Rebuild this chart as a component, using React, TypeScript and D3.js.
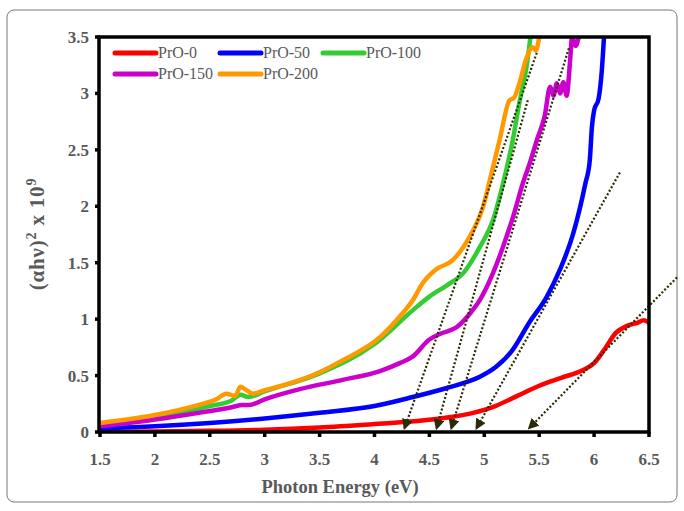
import * as d3 from "d3";

// photon energy (eV) and (αhν)² x 10⁹
const pro0X = [1.5, 2, 2.5, 3, 3.5, 4, 4.3, 4.6, 4.9, 5.1, 5.3, 5.5, 5.7, 5.9, 6.0, 6.1, 6.2, 6.3, 6.4, 6.45, 6.5];
const pro0Y = [0.0, 0.005, 0.01, 0.02, 0.04, 0.07, 0.09, 0.12, 0.17, 0.23, 0.32, 0.41, 0.48, 0.55, 0.61, 0.74, 0.88, 0.94, 0.97, 0.99, 0.97];

const pro50X = [1.5, 2, 2.5, 3, 3.5, 4, 4.35, 4.66, 4.8, 4.96, 5.11, 5.26, 5.41, 5.57, 5.69, 5.81, 5.92, 5.96, 5.98, 6.0, 6.04, 6.07, 6.09];
const pro50Y = [0.03, 0.05, 0.08, 0.12, 0.17, 0.23, 0.31, 0.39, 0.43, 0.49, 0.58, 0.73, 0.97, 1.2, 1.44, 1.76, 2.2, 2.4, 2.7, 2.85, 2.95, 3.2, 3.5];

const pro100X = [1.5, 2, 2.5, 2.7, 2.78, 2.85, 3, 3.5, 4, 4.35, 4.5, 4.66, 4.81, 4.96, 5.08, 5.17, 5.26, 5.32, 5.39, 5.42];
const pro100Y = [0.07, 0.14, 0.23, 0.28, 0.33, 0.31, 0.36, 0.52, 0.78, 1.08, 1.2, 1.3, 1.41, 1.64, 1.88, 2.2, 2.59, 2.92, 3.27, 3.5];

const pro150X = [1.5, 2, 2.4, 2.7, 2.8, 2.86, 3.0, 3.32, 3.7, 4.05, 4.23, 4.35, 4.5, 4.6, 4.75, 4.87, 4.96, 5.08, 5.17, 5.26, 5.35, 5.42, 5.48, 5.55, 5.6, 5.63, 5.66, 5.69, 5.72, 5.75, 5.78, 5.8, 5.83, 5.86];
const pro150Y = [0.05, 0.11, 0.17, 0.22, 0.24, 0.24, 0.29, 0.38, 0.46, 0.54, 0.61, 0.67, 0.82, 0.87, 0.93, 1.05, 1.17, 1.41, 1.64, 1.9, 2.2, 2.4, 2.59, 2.8, 3.06, 2.98, 3.09, 3.0, 3.1, 2.98, 3.27, 3.5, 3.42, 3.5];

const pro200X = [1.5, 2, 2.4, 2.56, 2.65, 2.73, 2.78, 2.82, 2.89, 3.0, 3.32, 3.5, 3.7, 4.05, 4.2, 4.35, 4.44, 4.56, 4.71, 4.81, 4.9, 4.99, 5.05, 5.14, 5.23, 5.27, 5.32, 5.38, 5.44, 5.47, 5.5];
const pro200Y = [0.08, 0.15, 0.24, 0.29, 0.34, 0.32, 0.4, 0.38, 0.34, 0.37, 0.46, 0.53, 0.63, 0.84, 0.99, 1.17, 1.32, 1.44, 1.52, 1.64, 1.79, 2.0, 2.23, 2.59, 2.94, 2.96, 3.09, 3.3, 3.41, 3.38, 3.5];

const seriesNames = ["PrO-0", "PrO-50", "PrO-100", "PrO-150", "PrO-200"];
const seriesColors = ["#ff0000", "#0000ff", "#33cc33", "#cc00cc", "#ff9900"];
const seriesX = [pro0X, pro50X, pro100X, pro150X, pro200X];
const seriesY = [pro0Y, pro50Y, pro100Y, pro150Y, pro200Y];

// tangent (Tauc) lines: start point and arrow point [x1, y1, x2, y2]
const tangentLines = [
  [5.478, 3.36, 4.274, 0.035],
  [5.396, 2.94, 4.566, 0.035],
  [5.77, 3.4, 4.7, 0.035],
  [6.235, 2.3, 4.93, 0.035],
  [6.755, 1.37, 5.41, 0.035],
];

const xTicks = [1.5, 2, 2.5, 3, 3.5, 4, 4.5, 5, 5.5, 6, 6.5];
const yTicks = [0, 0.5, 1, 1.5, 2, 2.5, 3, 3.5];

const W = 684;
const H = 511;
const left = 100;
const right = 649;
const top = 37;
const bottom = 432;

export default function App() {
  const x = d3.scaleLinear().domain([1.5, 6.5]).range([left, right]);
  const y = d3.scaleLinear().domain([0, 3.5]).range([bottom, top]);

  const font = "'Liberation Serif', 'Times New Roman', serif";
  const grey = "#595959";

  const paths = seriesX.map(
    (xs, s) =>
      d3
        .line<number>()
        .curve(d3.curveMonotoneX)
        .x((d) => x(d))
        .y((_, i) => y(seriesY[s][i]))(xs) || ""
  );

  const legendPos = [
    [115, 53],
    [220, 53],
    [323, 53],
    [115, 74],
    [220, 74],
  ];

  return (
    <svg
      width={W}
      height={H}
      style={{ position: "absolute", left: 0, top: 0, background: "#fff" }}
      fontFamily={font}
    >
      <defs>
        <clipPath id="plot">
          <rect x={left} y={top} width={right - left} height={bottom - top} />
        </clipPath>
        <marker
          id="arrow"
          viewBox="0 0 10 10"
          refX="8"
          refY="5"
          markerWidth="5"
          markerHeight="5"
          orient="auto"
          markerUnits="strokeWidth"
        >
          <path d="M0,0 L10,5 L0,10 z" fill="#2b2b05" />
        </marker>
      </defs>
      <rect x={7} y={10} width={670} height={492} rx={7} fill="#fff" stroke="#777" strokeWidth={1} />

      {/* series */}
      <g clipPath="url(#plot)">
        {paths.map((p, s) => (
          <path
            key={s}
            d={p}
            fill="none"
            stroke={seriesColors[s]}
            strokeWidth={4.5}
            strokeLinejoin="round"
            strokeLinecap="round"
          />
        ))}
      </g>

      {/* tangent lines */}
      {tangentLines.map((t, i) => (
        <line
          key={i}
          x1={x(t[0])}
          y1={y(t[1])}
          x2={x(t[2])}
          y2={y(t[3])}
          stroke="#2b2b05"
          strokeWidth={2.2}
          strokeDasharray="2 2"
          markerEnd="url(#arrow)"
        />
      ))}

      {/* frame */}
      <rect x={left - 1} y={top} width={right - left + 1} height={bottom - top} fill="none" stroke="#000" strokeWidth={3.5} />

      {/* x ticks */}
      {xTicks.map((t) => (
        <g key={t}>
          <line x1={x(t)} x2={x(t)} y1={bottom} y2={bottom + 5} stroke="#000" strokeWidth={3.5} />
          <text x={x(t)} y={465} textAnchor="middle" fontSize={17} fontWeight="bold" fill={grey}>
            {t}
          </text>
        </g>
      ))}

      {/* y ticks */}
      {yTicks.map((t) => (
        <g key={t}>
          <line x1={left - 5} x2={left} y1={y(t)} y2={y(t)} stroke="#000" strokeWidth={3.5} />
          <text x={89} y={y(t) + 6} textAnchor="end" fontSize={17} fontWeight="bold" fill={grey}>
            {t}
          </text>
        </g>
      ))}

      <text x={340} y={493} textAnchor="middle" fontSize={18.5} fontWeight="bold" fill={grey}>
        Photon Energy (eV)
      </text>
      <text
        transform="translate(44,234) rotate(-90)"
        textAnchor="middle"
        fontSize={21}
        fontWeight="bold"
        fill={grey}
        letterSpacing={0.8}
      >
        (αhν)
        <tspan fontSize={14} dy={-8}>2</tspan>
        <tspan dy={8}> x 10</tspan>
        <tspan fontSize={14} dy={-8}>9</tspan>
      </text>

      {/* legend */}
      {seriesNames.map((n, i) => (
        <g key={n} transform={`translate(${legendPos[i][0]},${legendPos[i][1]})`}>
          <line x1={0} x2={41} y1={0} y2={0} stroke={seriesColors[i]} strokeWidth={5} strokeLinecap="round" />
          <text x={43} y={5} fontSize={16} fill={grey}>
            {n}
          </text>
        </g>
      ))}
    </svg>
  );
}
